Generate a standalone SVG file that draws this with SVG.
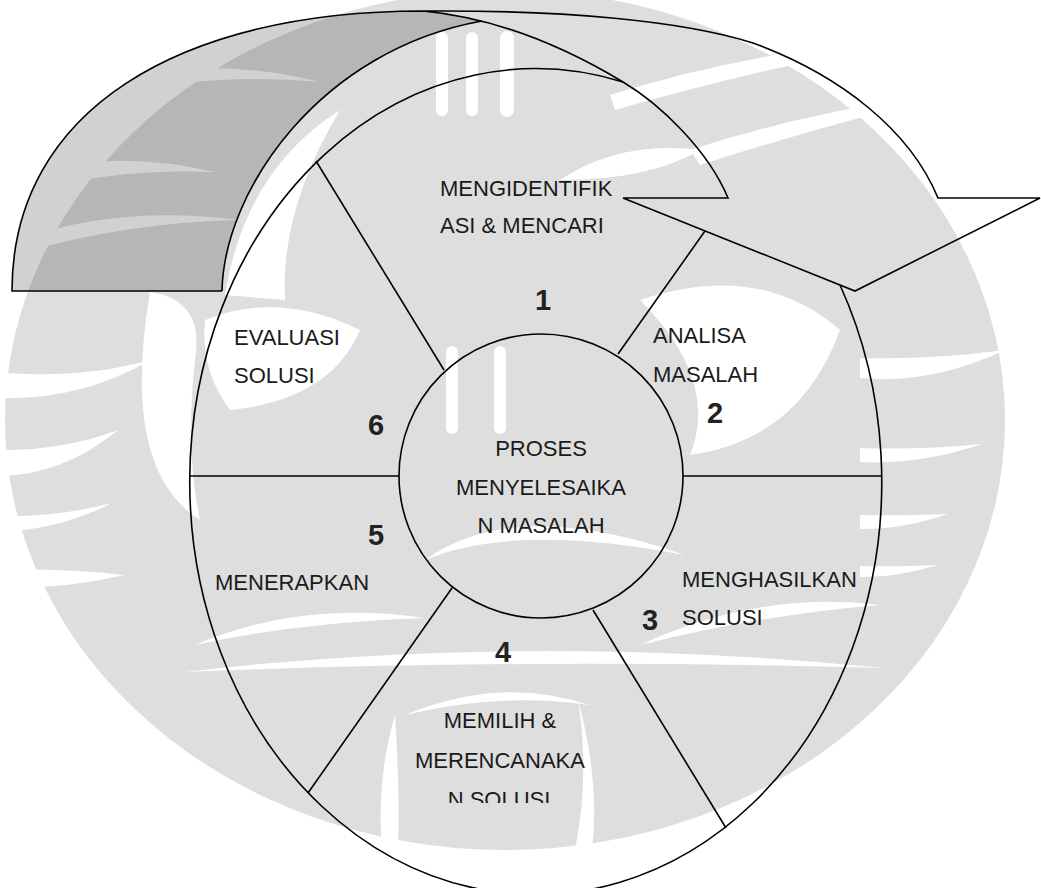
<svg xmlns="http://www.w3.org/2000/svg" width="1041" height="888" viewBox="0 0 1041 888">
<style>
.ln{fill:none;stroke:#000;stroke-width:1.6}
.t{font-family:"Liberation Sans",Arial,sans-serif;font-size:22px;fill:#1a1a1a}
.c{text-anchor:middle}
.n{font-family:"Liberation Sans",Arial,sans-serif;font-size:29px;font-weight:bold;fill:#222;text-anchor:middle}
.wm{fill:none;stroke:#fff;stroke-linecap:round}
.wf{fill:#fff}
</style>
<defs>
<clipPath id="clipS"><rect x="0" y="0" width="1041" height="803"/></clipPath>
</defs>
<rect width="1041" height="888" fill="#fff"/>
<g id="watermark">
<ellipse cx="505" cy="420" rx="500" ry="430" fill="#dedede"/>
<path class="wf" d="M-10,372 Q80,380 150,360 Q80,402 -10,398 Z"/>
<path class="wf" d="M-10,450 Q60,452 118,430 Q60,478 -10,476 Z"/>
<path class="wf" d="M-10,516 Q55,518 112,503 Q55,532 -10,532 Z"/>
<path class="wf" d="M-10,570 Q60,568 125,575 Q60,590 -10,588 Z"/>
<path class="wf" d="M150,292 Q205,300 195,360 Q185,450 200,520 Q120,470 150,292 Z"/>
<path class="wf" d="M860,358 Q930,360 1005,350 Q930,385 860,378 Z"/>
<path class="wf" d="M860,448 Q920,450 982,444 Q920,465 860,462 Z"/>
<path class="wf" d="M860,515 Q900,516 948,514 Q900,530 860,529 Z"/>
<path class="wf" d="M860,566 Q895,567 938,565 Q895,578 860,577 Z"/>
<path class="wf" d="M35,175 Q110,148 215,172 Q120,168 35,190 Z"/>
<path class="wf" d="M25,238 Q120,205 240,220 Q130,222 25,252 Z"/>
<path class="wf" d="M120,80 Q210,55 320,82 Q210,72 120,95 Z"/>
<path class="wf" d="M610,95 Q770,45 950,35 Q780,62 615,110 Z"/>
<path class="wf" d="M690,150 Q830,105 965,92 Q840,120 700,165 Z"/>
<path class="wf" d="M225,295 Q245,170 340,110 Q280,210 285,300 Z"/>
<path class="wf" d="M640,300 Q760,260 840,330 Q800,440 690,455 Q720,380 640,300 Z"/>
<path class="wf" d="M205,320 Q280,290 360,330 Q330,400 230,410 Q200,370 205,320 Z"/>
<path class="wf" d="M560,180 Q620,140 700,150 Q650,180 560,180 Z"/>
<path class="wm" stroke-width="12" d="M442,38 L442,110"/>
<path class="wm" stroke-width="12" d="M472,38 L472,110"/>
<path class="wm" stroke-width="14" d="M507,38 L507,110"/>
<path class="wm" stroke-width="12" d="M452,352 L452,428"/>
<path class="wm" stroke-width="12" d="M500,352 L500,428"/>
<path class="wf" d="M425,560 Q515,495 685,555 Q515,522 425,560 Z"/>
<path class="wf" d="M640,645 Q760,590 880,605 Q760,615 640,645 Z"/>
<path class="wf" d="M195,645 Q300,600 425,618 Q300,622 195,645 Z"/>
<path class="wf" d="M382,850 Q376,780 395,715 Q400,790 398,850 Z"/>
<path class="wf" d="M575,850 Q590,775 578,700 Q600,780 592,850 Z"/>
<path class="wf" d="M405,715 Q500,675 590,705 Q500,692 405,715 Z"/>
<path class="wf" d="M185,672 Q520,632 885,668 Q520,658 185,672 Z"/>
</g>
<g id="arrow">
<path d="M12,291 C12,110 180,11 423,11 Q452,13.7 481.8,21.2 C320,50 224,190 222,291 Z" fill="#000" fill-opacity="0.18"/>
<path class="ln" d="M222,291 L12,291 C12,110 180,11 423,11 C560,10 680,20 753,43 C840,75 910,130 938,198 L1040,198 L855,291 L623,198 L728,198 C708,150 660,104 623,82 Q520,20 423,11"/>
<path class="ln" d="M222,291 C224,190 320,50 482,21"/>
</g>
<g id="wheel">
<path class="ln" d="M623,82 A346,413 0 1 0 840,285"/>
</g>
<g id="connectors" class="ln">
<line x1="190" y1="476" x2="399" y2="476"/>
<line x1="683" y1="476" x2="882" y2="476"/>
<line x1="316" y1="161" x2="444" y2="370"/>
<line x1="705" y1="231" x2="618" y2="354"/>
<line x1="452" y1="588" x2="308" y2="793"/>
<line x1="593" y1="610" x2="726" y2="828"/>
</g>
<g id="center">
<circle class="ln" cx="541" cy="476" r="142"/>
<text class="t c" x="541" y="456">PROSES</text>
<text class="t c" x="541" y="495">MENYELESAIKA</text>
<text class="t c" x="541" y="533">N MASALAH</text>
</g>
<g id="seg1">
<text class="t" x="440" y="196">MENGIDENTIFIK</text>
<text class="t" x="440" y="233">ASI &amp; MENCARI</text>
<text class="n" x="543" y="310">1</text>
</g>
<g id="seg2">
<text class="t" x="653" y="343">ANALISA</text>
<text class="t" x="653" y="382">MASALAH</text>
<text class="n" x="715" y="423">2</text>
</g>
<g id="seg3">
<text class="t" x="682" y="587">MENGHASILKAN</text>
<text class="t" x="682" y="625">SOLUSI</text>
<text class="n" x="650" y="630">3</text>
</g>
<g id="seg4">
<text class="n" x="503" y="662">4</text>
<text class="t c" x="500" y="728">MEMILIH &amp;</text>
<text class="t c" x="500" y="768">MERENCANAKA</text>
<text class="t c" x="499" y="807" clip-path="url(#clipS)">N SOLUSI</text>
</g>
<g id="seg5">
<text class="n" x="376" y="545">5</text>
<text class="t" x="215" y="590">MENERAPKAN</text>
</g>
<g id="seg6">
<text class="t" x="234" y="345">EVALUASI</text>
<text class="t" x="234" y="383">SOLUSI</text>
<text class="n" x="376" y="435">6</text>
</g>
</svg>
